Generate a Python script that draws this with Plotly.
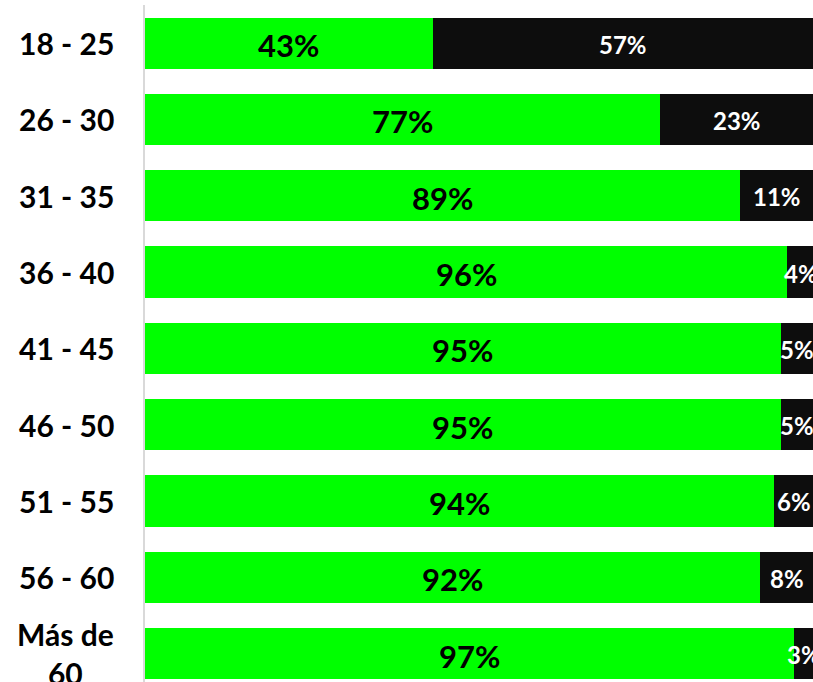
import plotly.graph_objects as go

categories = ["18 - 25", "26 - 30", "31 - 35", "36 - 40", "41 - 45",
              "46 - 50", "51 - 55", "56 - 60", "Más de 60"]
tick_labels = ["18 - 25", "26 - 30", "31 - 35", "36 - 40", "41 - 45",
               "46 - 50", "51 - 55", "56 - 60", "Más de<br>60"]
green_values = [43, 77, 89, 96, 95, 95, 94, 92, 97]
black_values = [57, 23, 11, 4, 5, 5, 6, 8, 3]

GREEN = "#00FF00"
BLACK = "#0D0D0D"
FONT = "Lato"

fig = go.Figure()
fig.add_trace(go.Bar(y=categories, x=green_values, orientation="h",
                     marker=dict(color=GREEN, line=dict(width=0)),
                     hoverinfo="skip"))
fig.add_trace(go.Bar(y=categories, x=black_values, orientation="h",
                     marker=dict(color=BLACK, line=dict(width=0)),
                     hoverinfo="skip"))

annotations = []
for cat, lab, g, b in zip(categories, tick_labels, green_values, black_values):
    annotations.append(dict(x=g / 2, y=cat, xref="x", yref="y",
                            text=f"{g}%", showarrow=False, yshift=-2,
                            font=dict(family=FONT, size=31, color="#000000",
                                      weight="bold")))
    annotations.append(dict(x=g + b / 2, y=cat, xref="x", yref="y",
                            text=f"{b}%", showarrow=False, yshift=-1,
                            font=dict(family=FONT, size=24, color="#FFFFFF",
                                      weight="bold")))
    annotations.append(dict(x=0, y=cat, xref="paper", yref="y",
                            xanchor="right", xshift=-29, align="center",
                            text=lab, showarrow=False,
                            font=dict(family=FONT, size=30, color="#000000",
                                      weight="bold")))

fig.update_layout(
    width=813, height=682,
    margin=dict(l=145, r=0, t=5, b=0),
    barmode="stack", bargap=0.33,
    showlegend=False,
    plot_bgcolor="white", paper_bgcolor="white",
    xaxis=dict(range=[0, 99.85], visible=False, fixedrange=True),
    yaxis=dict(type="category", categoryorder="array", categoryarray=categories,
               range=[8.373, -0.5], showticklabels=False, showgrid=False,
               zeroline=False, showline=True, linecolor="#D9D9D9", linewidth=1.5,
               ticks="", fixedrange=True),
    annotations=annotations,
)

fig.write_html("out.html",
               config={"displayModeBar": False},
               post_script="document.body.style.margin='0';document.body.style.overflow='hidden';")
